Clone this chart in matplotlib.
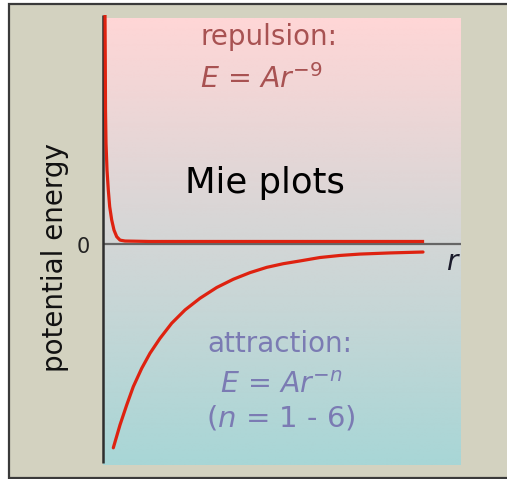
import numpy as np
import matplotlib
matplotlib.use("Agg")
import matplotlib.pyplot as plt
from matplotlib.patches import Rectangle

plt.rcParams['font.family'] = ['DejaVu Sans']
plt.rcParams['mathtext.fontset'] = 'dejavusans'

# ---- data (r in arbitrary units 0..10, E with 0 at axis) ----
rep_r = [0.056, 0.064, 0.070, 0.084, 0.112, 0.148, 0.187, 0.243, 0.307, 0.383, 0.475,
         0.615, 1.31, 3.0, 6.0, 8.97]
rep_E = [1.0, 0.803, 0.585, 0.441, 0.323, 0.236, 0.163, 0.105, 0.061, 0.032, 0.017,
         0.013, 0.011, 0.011, 0.011, 0.011]

att_r = [0.288, 0.475, 0.662, 0.846, 1.081, 1.313, 1.592, 1.919, 2.291, 2.709, 3.176,
         3.639, 4.106, 4.573, 5.036, 5.503, 6.061, 6.620, 7.179, 8.017, 8.939]
att_E = [-0.890, -0.790, -0.703, -0.623, -0.543, -0.477, -0.412, -0.346, -0.288, -0.237,
         -0.190, -0.154, -0.125, -0.102, -0.086, -0.074, -0.059, -0.050, -0.044, -0.039, -0.035]

ylabel = "potential energy"
zero_label = "0"
x_label = "r"
title = "Mie plots"
rep_lines = ["repulsion:", r"$E$ = $Ar^{-9}$"]
att_lines = ["attraction:", r"$E$ = $Ar^{-n}$", r"($n$ = 1 - 6)"]

W, H = 507, 479
fig = plt.figure(figsize=(W / 100, H / 100), dpi=100)
fig.patch.set_facecolor('white')

def fx(px):
    return px / W

def fy(py):
    return 1 - py / H

def box(x0, y0, x1, y1):
    return [fx(x0), fy(y1), fx(x1) - fx(x0), fy(y0) - fy(y1)]

# outer beige panel with dark border
fig.patches.append(Rectangle((fx(9), fy(478)), fx(520) - fx(9), fy(4) - fy(478),
                             transform=fig.transFigure, facecolor='#d3d2c0',
                             edgecolor='#3a3a3a', linewidth=1.6, zorder=-10))

# gradient background
ax_bg = fig.add_axes(box(103, 18, 461, 465))
top = np.array([255, 214, 214]) / 255
bot = np.array([168, 214, 214]) / 255
t = np.linspace(0, 1, 256)[:, None, None]
grad = top[None, None, :] * (1 - t) + bot[None, None, :] * t
ax_bg.imshow(grad, aspect='auto', extent=[0, 1, 0, 1], interpolation='bilinear')
ax_bg.set_axis_off()
ax_bg.set_zorder(1)

# main axes
ax = fig.add_axes(box(103, 15, 461, 465))
ax.set_zorder(2)
ax.set_facecolor('none')
ax.set_xlim(0, 10)
ax.set_ylim((244 - 465) / 229, 1.0)
for s in ax.spines.values():
    s.set_visible(False)
ax.set_xticks([])
ax.set_yticks([])

ax.axhline(0, color='#666666', lw=1.6, zorder=2)
ax.plot([0.0, 0.0], [1.0, (244 - 463) / 229], color='#2e2e2e', lw=1.8, zorder=3,
        solid_capstyle='butt', clip_on=False)

red = '#de2210'
ax.plot(rep_r, rep_E, color=red, lw=2.3, solid_joinstyle='round', solid_capstyle='butt',
        zorder=4, clip_on=False)
ax.plot(att_r, att_E, color=red, lw=2.3, solid_joinstyle='round', solid_capstyle='round',
        zorder=4, clip_on=False)

# texts
fig.text(fx(55), fy(258), ylabel, rotation=90, ha='center', va='center',
         fontsize=20, color='#111111', zorder=5)
fig.text(fx(83), fy(247), zero_label, ha='center', va='center', fontsize=15, color='#222222', zorder=5)
fig.text(fx(453), fy(270), r"$r$", ha='center', va='baseline', fontsize=20, color='#1a1a2a', zorder=5)
fig.text(fx(265), fy(193), title, ha='center', va='baseline', fontsize=25.5, color='black', zorder=5)

rep_col = '#a85252'
fig.text(fx(269), fy(45), rep_lines[0], ha='center', va='baseline', fontsize=20, color=rep_col, zorder=5)
fig.text(fx(200), fy(88), rep_lines[1], ha='left', va='baseline', fontsize=20.5, color=rep_col, zorder=5)

att_col = '#7b7bb3'
fig.text(fx(280), fy(352), att_lines[0], ha='center', va='baseline', fontsize=20, color=att_col, zorder=5)
fig.text(fx(281), fy(393), att_lines[1], ha='center', va='baseline', fontsize=20.5, color=att_col, zorder=5)
fig.text(fx(281), fy(427), att_lines[2], ha='center', va='baseline', fontsize=21, color=att_col, zorder=5)

fig.savefig('out.png', dpi=100, facecolor=fig.get_facecolor())
